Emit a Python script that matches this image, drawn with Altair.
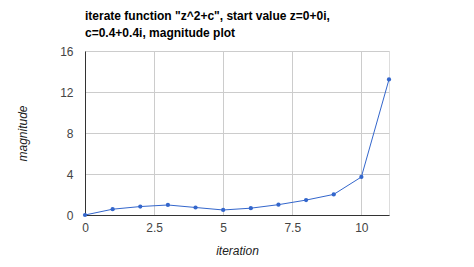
import altair as alt
import pandas as pd

iteration = [0, 1, 2, 3, 4, 5, 6, 7, 8, 9, 10, 11]
magnitude = [0.0, 0.566, 0.824, 0.977, 0.732, 0.490, 0.666, 1.009, 1.455, 2.010, 3.709, 13.226]

df = pd.DataFrame({"iteration": iteration, "magnitude": magnitude})

FONT = "Liberation Sans"

x = alt.X("iteration:Q", title="iteration",
          scale=alt.Scale(domain=[0, 11], nice=False),
          axis=alt.Axis(values=[0, 2.5, 5, 7.5, 10], format=".1~f", ticks=False,
                        labelFlush=False,
                        domainColor="#333333", gridColor="#cccccc",
                        labelColor="#444444", labelFontSize=12, labelFont=FONT,
                        labelPadding=7, titleFont=FONT, titleFontSize=12,
                        titleFontStyle="italic", titleFontWeight="normal",
                        titleColor="#222222", titlePadding=12))
y = alt.Y("magnitude:Q", title="magnitude",
          scale=alt.Scale(domain=[0, 16], nice=False),
          axis=alt.Axis(values=[0, 4, 8, 12, 16], ticks=False,
                        labelFlush=False,
                        domainColor="#333333", gridColor="#cccccc",
                        labelColor="#444444", labelFontSize=12, labelFont=FONT,
                        labelPadding=12, titleFont=FONT, titleFontSize=12,
                        titleFontStyle="italic", titleFontWeight="normal",
                        titleColor="#222222", titlePadding=30))

base = alt.Chart(df).encode(x=x, y=y)
line = base.mark_line(color="#3366cc", strokeWidth=1)
pts = base.mark_point(color="#3366cc", filled=True, size=18, opacity=1)

chart = (line + pts).properties(
    width=304, height=164,
    title=alt.TitleParams(
        text=['iterate function "z^2+c", start value z=0+0i,', "c=0.4+0.4i, magnitude plot"],
        anchor="start", frame="group", font=FONT, fontSize=12, fontWeight="bold",
        color="#000000", offset=5, lineHeight=17),
    autosize=alt.AutoSizeParams(type="none"),
    padding={"left": 85, "top": 51, "right": 85, "bottom": 52},
).configure_view(stroke=None).configure(background="white")

chart.save("out.html", embed_options={"renderer": "svg", "actions": False})
